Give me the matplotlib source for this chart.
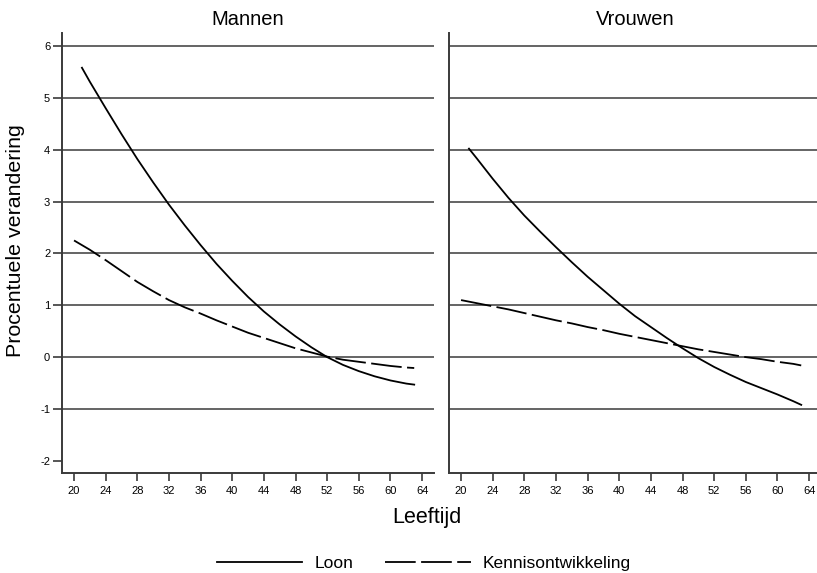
import matplotlib.pyplot as plt

plt.rcParams["font.family"] = ["Liberation Sans", "DejaVu Sans"]
plt.rcParams["axes.unicode_minus"] = False

# leeftijden en procentuele verandering per groep
leeftijd_loon = [21, 22, 24, 26, 28, 30, 32, 34, 36, 38, 40, 42, 44, 46, 48, 50, 52, 54, 56, 58, 60, 62, 63]
leeftijd_kennis = [20, 22, 24, 26, 28, 30, 32, 34, 36, 38, 40, 42, 44, 46, 48, 50, 52, 54, 56, 58, 60, 62, 63]

mannen_loon = [5.58, 5.31, 4.80, 4.30, 3.82, 3.37, 2.94, 2.54, 2.16, 1.80, 1.47, 1.16, 0.88, 0.63,
               0.40, 0.19, 0.00, -0.15, -0.27, -0.37, -0.45, -0.51, -0.53]
mannen_kennis = [2.25, 2.07, 1.87, 1.66, 1.45, 1.27, 1.10, 0.96, 0.84, 0.71, 0.59, 0.47, 0.37, 0.27,
                 0.17, 0.09, 0.01, -0.05, -0.09, -0.13, -0.17, -0.20, -0.21]
vrouwen_loon = [4.02, 3.83, 3.44, 3.07, 2.73, 2.42, 2.12, 1.83, 1.55, 1.29, 1.03, 0.79, 0.58, 0.37,
                0.17, -0.02, -0.19, -0.34, -0.48, -0.60, -0.72, -0.85, -0.92]
vrouwen_kennis = [1.10, 1.04, 0.98, 0.92, 0.85, 0.78, 0.71, 0.65, 0.58, 0.52, 0.45, 0.39, 0.33, 0.27,
                  0.21, 0.15, 0.10, 0.05, 0.00, -0.04, -0.09, -0.13, -0.16]

panelen = [("Mannen", mannen_loon, mannen_kennis), ("Vrouwen", vrouwen_loon, vrouwen_kennis)]
x_ticks = list(range(20, 65, 4))
y_ticks = list(range(-2, 7))
grid_y = list(range(-1, 7))

fig = plt.figure(figsize=(8.17, 5.73), dpi=100)
ax_l = fig.add_axes([0.0759, 0.174, 0.4553, 0.7684])
ax_r = fig.add_axes([0.5496, 0.174, 0.4553, 0.7684])

grijs = "#3a3a3a"
for ax, (titel, loon, kennis) in zip([ax_l, ax_r], panelen):
    for y in grid_y:
        ax.axhline(y, color=grijs, linewidth=1.1, zorder=1)
    ax.plot(leeftijd_loon, loon, color="black", linewidth=1.3, label="Loon", zorder=3)
    ax.plot(leeftijd_kennis, kennis, color="black", linewidth=1.3, dashes=(17, 3),
            label="Kennisontwikkeling", zorder=3)
    ax.set_xlim(18.48, 65.5)
    ax.set_ylim(-2.24, 6.25)
    ax.set_xticks(x_ticks)
    ax.set_yticks(y_ticks)
    ax.set_title(titel, fontsize=14.5, pad=6)
    ax.spines["top"].set_visible(False)
    ax.spines["right"].set_visible(False)
    for s in ["left", "bottom"]:
        ax.spines[s].set_color(grijs)
        ax.spines[s].set_linewidth(1.4)
    ax.tick_params(axis="x", length=6, width=1.2, color=grijs, labelsize=8, pad=3)
    ax.tick_params(axis="y", length=6.5, width=1.2, color=grijs, labelsize=8, pad=2)

ax_r.tick_params(axis="y", left=False, labelleft=False)

fig.text(0.019, 0.58, "Procentuele verandering", rotation=90, fontsize=15.4,
         ha="center", va="center")
fig.text(0.523, 0.096, "Leeftijd", fontsize=15.5, ha="center", va="center")

handles, labels = ax_l.get_legend_handles_labels()
fig.legend(handles, labels, loc="center", bbox_to_anchor=(0.519, 0.017), ncol=2, frameon=False,
           fontsize=12.5, handlelength=4.9, columnspacing=1.85, handletextpad=0.7)

fig.savefig("out.png", dpi=100)
